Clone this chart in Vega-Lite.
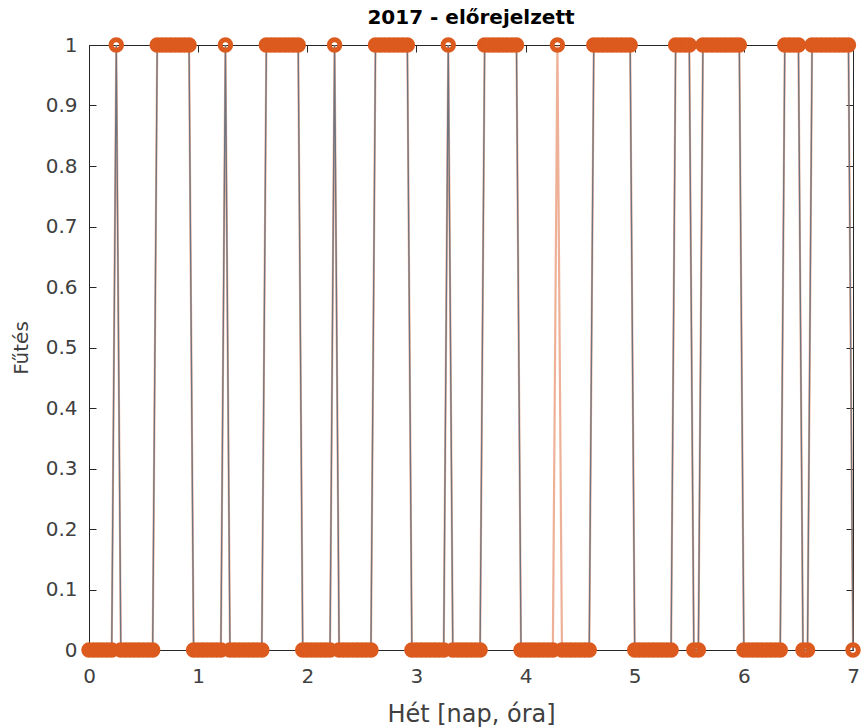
{
  "$schema": "https://vega.github.io/schema/vega-lite/v6.json",
  "width": 764,
  "height": 605,
  "autosize": "none",
  "padding": {"left": 89, "top": 45, "right": 8, "bottom": 77},
  "background": "white",
  "config": {
    "view": {"stroke": null},
    "font": "DejaVu Sans",
    "axis": {
      "domainColor": "#262626",
      "domainWidth": 1,
      "tickColor": "#262626",
      "tickSize": -7,
      "labelColor": "#404040",
      "labelFont": "DejaVu Sans",
      "labelFontSize": 20,
      "labelFlush": false,
      "titleFont": "DejaVu Sans",
      "titleFontSize": 20,
      "titleFontWeight": "normal",
      "titleColor": "#404040",
      "grid": false
    }
  },
  "title": {
    "text": "2017 - előrejelzett",
    "fontSize": 20,
    "fontWeight": "bold",
    "font": "DejaVu Sans",
    "color": "#000000",
    "offset": 2
  },
  "data": {
    "values": [
      {"ora":0,"valos":0,"elore":0},{"ora":1,"valos":0,"elore":0},{"ora":2,"valos":0,"elore":0},{"ora":3,"valos":0,"elore":0},{"ora":4,"valos":0,"elore":0},{"ora":5,"valos":0,"elore":0},{"ora":6,"valos":1,"elore":1},{"ora":7,"valos":0,"elore":0},{"ora":8,"valos":0,"elore":0},{"ora":9,"valos":0,"elore":0},{"ora":10,"valos":0,"elore":0},{"ora":11,"valos":0,"elore":0},{"ora":12,"valos":0,"elore":0},{"ora":13,"valos":0,"elore":0},{"ora":14,"valos":0,"elore":0},{"ora":15,"valos":1,"elore":1},{"ora":16,"valos":1,"elore":1},{"ora":17,"valos":1,"elore":1},{"ora":18,"valos":1,"elore":1},{"ora":19,"valos":1,"elore":1},{"ora":20,"valos":1,"elore":1},{"ora":21,"valos":1,"elore":1},{"ora":22,"valos":1,"elore":1},{"ora":23,"valos":0,"elore":0},
      {"ora":24,"valos":0,"elore":0},{"ora":25,"valos":0,"elore":0},{"ora":26,"valos":0,"elore":0},{"ora":27,"valos":0,"elore":0},{"ora":28,"valos":0,"elore":0},{"ora":29,"valos":0,"elore":0},{"ora":30,"valos":1,"elore":1},{"ora":31,"valos":0,"elore":0},{"ora":32,"valos":0,"elore":0},{"ora":33,"valos":0,"elore":0},{"ora":34,"valos":0,"elore":0},{"ora":35,"valos":0,"elore":0},{"ora":36,"valos":0,"elore":0},{"ora":37,"valos":0,"elore":0},{"ora":38,"valos":0,"elore":0},{"ora":39,"valos":1,"elore":1},{"ora":40,"valos":1,"elore":1},{"ora":41,"valos":1,"elore":1},{"ora":42,"valos":1,"elore":1},{"ora":43,"valos":1,"elore":1},{"ora":44,"valos":1,"elore":1},{"ora":45,"valos":1,"elore":1},{"ora":46,"valos":1,"elore":1},{"ora":47,"valos":0,"elore":0},
      {"ora":48,"valos":0,"elore":0},{"ora":49,"valos":0,"elore":0},{"ora":50,"valos":0,"elore":0},{"ora":51,"valos":0,"elore":0},{"ora":52,"valos":0,"elore":0},{"ora":53,"valos":0,"elore":0},{"ora":54,"valos":1,"elore":1},{"ora":55,"valos":0,"elore":0},{"ora":56,"valos":0,"elore":0},{"ora":57,"valos":0,"elore":0},{"ora":58,"valos":0,"elore":0},{"ora":59,"valos":0,"elore":0},{"ora":60,"valos":0,"elore":0},{"ora":61,"valos":0,"elore":0},{"ora":62,"valos":0,"elore":0},{"ora":63,"valos":1,"elore":1},{"ora":64,"valos":1,"elore":1},{"ora":65,"valos":1,"elore":1},{"ora":66,"valos":1,"elore":1},{"ora":67,"valos":1,"elore":1},{"ora":68,"valos":1,"elore":1},{"ora":69,"valos":1,"elore":1},{"ora":70,"valos":1,"elore":1},{"ora":71,"valos":0,"elore":0},
      {"ora":72,"valos":0,"elore":0},{"ora":73,"valos":0,"elore":0},{"ora":74,"valos":0,"elore":0},{"ora":75,"valos":0,"elore":0},{"ora":76,"valos":0,"elore":0},{"ora":77,"valos":0,"elore":0},{"ora":78,"valos":0,"elore":0},{"ora":79,"valos":1,"elore":1},{"ora":80,"valos":0,"elore":0},{"ora":81,"valos":0,"elore":0},{"ora":82,"valos":0,"elore":0},{"ora":83,"valos":0,"elore":0},{"ora":84,"valos":0,"elore":0},{"ora":85,"valos":0,"elore":0},{"ora":86,"valos":0,"elore":0},{"ora":87,"valos":1,"elore":1},{"ora":88,"valos":1,"elore":1},{"ora":89,"valos":1,"elore":1},{"ora":90,"valos":1,"elore":1},{"ora":91,"valos":1,"elore":1},{"ora":92,"valos":1,"elore":1},{"ora":93,"valos":1,"elore":1},{"ora":94,"valos":1,"elore":1},{"ora":95,"valos":0,"elore":0},
      {"ora":96,"valos":0,"elore":0},{"ora":97,"valos":0,"elore":0},{"ora":98,"valos":0,"elore":0},{"ora":99,"valos":0,"elore":0},{"ora":100,"valos":0,"elore":0},{"ora":101,"valos":0,"elore":0},{"ora":102,"valos":0,"elore":0},{"ora":103,"valos":0,"elore":1},{"ora":104,"valos":0,"elore":0},{"ora":105,"valos":0,"elore":0},{"ora":106,"valos":0,"elore":0},{"ora":107,"valos":0,"elore":0},{"ora":108,"valos":0,"elore":0},{"ora":109,"valos":0,"elore":0},{"ora":110,"valos":0,"elore":0},{"ora":111,"valos":1,"elore":1},{"ora":112,"valos":1,"elore":1},{"ora":113,"valos":1,"elore":1},{"ora":114,"valos":1,"elore":1},{"ora":115,"valos":1,"elore":1},{"ora":116,"valos":1,"elore":1},{"ora":117,"valos":1,"elore":1},{"ora":118,"valos":1,"elore":1},{"ora":119,"valos":1,"elore":1},
      {"ora":120,"valos":0,"elore":0},{"ora":121,"valos":0,"elore":0},{"ora":122,"valos":0,"elore":0},{"ora":123,"valos":0,"elore":0},{"ora":124,"valos":0,"elore":0},{"ora":125,"valos":0,"elore":0},{"ora":126,"valos":0,"elore":0},{"ora":127,"valos":0,"elore":0},{"ora":128,"valos":0,"elore":0},{"ora":129,"valos":1,"elore":1},{"ora":130,"valos":1,"elore":1},{"ora":131,"valos":1,"elore":1},{"ora":132,"valos":1,"elore":1},{"ora":133,"valos":0,"elore":0},{"ora":134,"valos":0,"elore":0},{"ora":135,"valos":1,"elore":1},{"ora":136,"valos":1,"elore":1},{"ora":137,"valos":1,"elore":1},{"ora":138,"valos":1,"elore":1},{"ora":139,"valos":1,"elore":1},{"ora":140,"valos":1,"elore":1},{"ora":141,"valos":1,"elore":1},{"ora":142,"valos":1,"elore":1},{"ora":143,"valos":1,"elore":1},
      {"ora":144,"valos":0,"elore":0},{"ora":145,"valos":0,"elore":0},{"ora":146,"valos":0,"elore":0},{"ora":147,"valos":0,"elore":0},{"ora":148,"valos":0,"elore":0},{"ora":149,"valos":0,"elore":0},{"ora":150,"valos":0,"elore":0},{"ora":151,"valos":0,"elore":0},{"ora":152,"valos":0,"elore":0},{"ora":153,"valos":1,"elore":1},{"ora":154,"valos":1,"elore":1},{"ora":155,"valos":1,"elore":1},{"ora":156,"valos":1,"elore":1},{"ora":157,"valos":0,"elore":0},{"ora":158,"valos":0,"elore":0},{"ora":159,"valos":1,"elore":1},{"ora":160,"valos":1,"elore":1},{"ora":161,"valos":1,"elore":1},{"ora":162,"valos":1,"elore":1},{"ora":163,"valos":1,"elore":1},{"ora":164,"valos":1,"elore":1},{"ora":165,"valos":1,"elore":1},{"ora":166,"valos":1,"elore":1},{"ora":167,"valos":1,"elore":1},{"ora":168,"valos":0,"elore":0}
    ]
  },
  "layer": [
    {
      "mark": {"type": "line", "color": "#D95319", "strokeWidth": 2.2, "opacity": 0.45},
      "encoding": {
        "x": {"field": "ora", "type": "quantitative", "scale": {"domain": [0, 168], "nice": false, "zero": false},
              "axis": {"orient": "bottom", "values": [0,24,48,72,96,120,144,168], "labelExpr": "datum.value / 24", "labelPadding": 23, "title": "Hét [nap, óra]", "titleFontSize": 24, "titlePadding": 16}},
        "y": {"field": "elore", "type": "quantitative", "scale": {"domain": [0, 1], "nice": false, "zero": false},
              "axis": {"orient": "left", "values": [0,0.1,0.2,0.3,0.4,0.5,0.6,0.7,0.8,0.9,1], "format": "~g", "labelPadding": 19, "title": "Fűtés", "titlePadding": 14}}
      }
    },
    {
      "mark": {"type": "line", "color": "#6b7480", "strokeWidth": 1.3},
      "encoding": {
        "x": {"field": "ora", "type": "quantitative",
              "axis": {"orient": "top", "values": [0,24,48,72,96,120,144,168], "labels": false, "title": null}},
        "y": {"field": "valos", "type": "quantitative",
              "axis": {"orient": "right", "values": [0,0.1,0.2,0.3,0.4,0.5,0.6,0.7,0.8,0.9,1], "labels": false, "title": null}}
      }
    },
    {
      "mark": {"type": "point", "shape": "circle", "filled": false, "color": "#DC5A1E", "size": 110, "strokeWidth": 5, "opacity": 1},
      "encoding": {
        "x": {"field": "ora", "type": "quantitative", "axis": null},
        "y": {"field": "elore", "type": "quantitative", "axis": null}
      }
    }
  ],
  "resolve": {"axis": {"x": "independent", "y": "independent"}}
}
